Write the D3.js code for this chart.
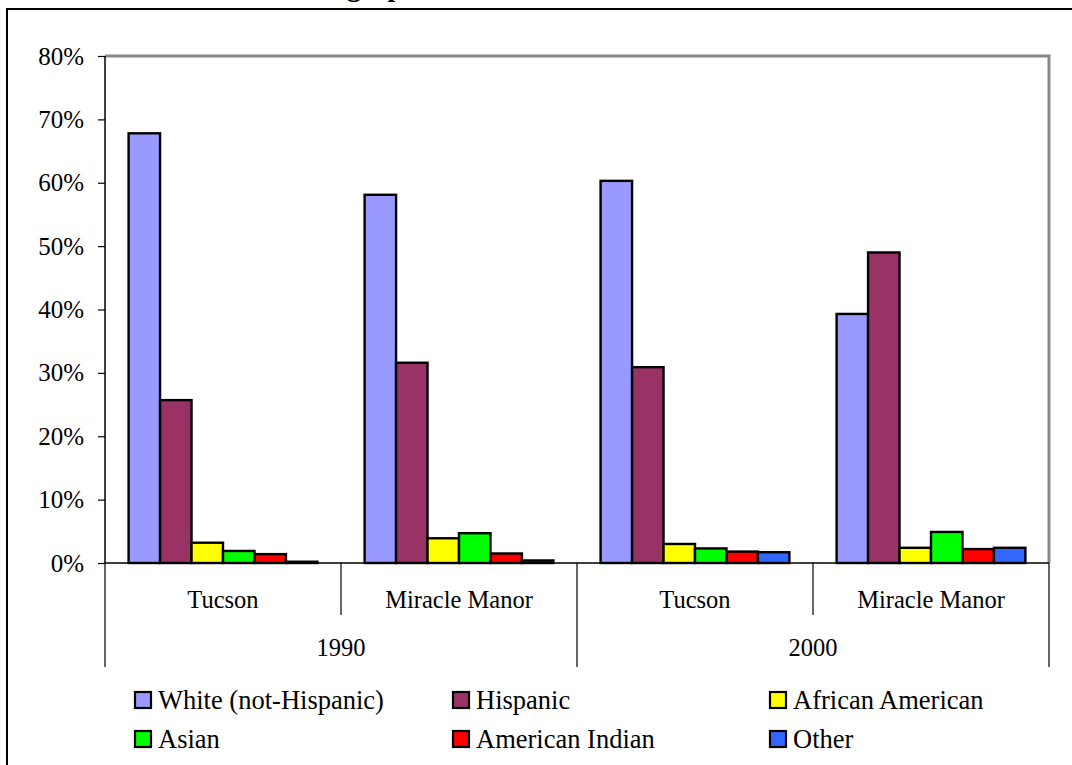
<!DOCTYPE html>
<html>
<head>
<meta charset="utf-8">
<script src="https://cdn.jsdelivr.net/npm/d3@7"></script>
<style>
  html, body { margin: 0; padding: 0; background: #fff; }
  svg { display: block; }
  text { font-family: "Liberation Serif", "Times New Roman", serif; fill: #000; }
</style>
</head>
<body>
<svg id="chart" width="1072" height="765"></svg>
<script>
// Population share by group, for each place and census year
const places = ["Tucson", "Miracle Manor", "Tucson", "Miracle Manor"];
const years = ["1990", "2000"];
const seriesNames = ["White (not-Hispanic)", "Hispanic", "African American", "Asian", "American Indian", "Other"];
const seriesColors = ["#9999FF", "#993366", "#FFFF00", "#00FF00", "#FF0000", "#3366FF"];
const white    = [0.678, 0.581, 0.603, 0.393];
const hispanic = [0.257, 0.316, 0.309, 0.490];
const african  = [0.032, 0.039, 0.030, 0.024];
const asian    = [0.019, 0.047, 0.023, 0.049];
const amIndian = [0.014, 0.015, 0.018, 0.022];
const other    = [0.002, 0.004, 0.017, 0.024];
const yTicks = [0, 0.1, 0.2, 0.3, 0.4, 0.5, 0.6, 0.7, 0.8];

const seriesValues = [white, hispanic, african, asian, amIndian, other];

const svg = d3.select("#chart");

// Outer chart frame (extends past the right and bottom edges)
svg.append("rect")
  .attr("x", 7).attr("y", 9)
  .attr("width", 1100).attr("height", 800)
  .attr("fill", "none").attr("stroke", "#000").attr("stroke-width", 2);

// Title, mostly above the visible area
svg.append("text")
  .attr("x", 277).attr("y", -4)
  .attr("font-size", 28).attr("font-weight", "bold")
  .text("Demographics");

const plotL = 105, plotR = 1049, plotT = 56, plotB = 563;

const y = d3.scaleLinear().domain([0, 0.8]).range([plotB, plotT]);
const x0 = d3.scaleBand().domain(d3.range(places.length)).range([plotL, plotR]);
const x1 = d3.scaleBand().domain(d3.range(seriesNames.length))
  .range([0, x0.bandwidth()]).paddingInner(0).paddingOuter(0.75);

// Plot area border: gray top and right
svg.append("path")
  .attr("d", `M${plotL},${plotT}H${plotR}V${plotB}`)
  .attr("fill", "none").attr("stroke", "#888").attr("stroke-width", 3);

// Bars
const g = svg.append("g");
places.forEach((p, i) => {
  seriesValues.forEach((vals, s) => {
    g.append("rect")
      .attr("x", x0(i) + x1(s))
      .attr("y", y(vals[i]))
      .attr("width", x1.bandwidth())
      .attr("height", plotB - y(vals[i]))
      .attr("fill", seriesColors[s])
      .attr("stroke", "#000")
      .attr("stroke-width", 2.4);
  });
});

// Y axis
const yAxis = d3.axisLeft(y).tickValues(yTicks).tickFormat(d3.format(".0%")).tickSize(7).tickPadding(14);
const ya = svg.append("g").attr("transform", `translate(${plotL},0)`).call(yAxis);
ya.select(".domain").attr("stroke", "#000").attr("stroke-width", 1.5).attr("d", `M0,${plotT}V${plotB}`);
ya.selectAll(".tick line").attr("stroke", "#000").attr("stroke-width", 1.2);
ya.selectAll(".tick text").attr("font-size", 25).attr("font-family", "Liberation Serif").attr("fill", "#000");

// Category axis baseline
svg.append("line")
  .attr("x1", plotL).attr("x2", plotR).attr("y1", plotB).attr("y2", plotB)
  .attr("stroke", "#000").attr("stroke-width", 1.5);

// Multi-level category dividers
const innerBottom = 615, outerBottom = 667;
const dividers = d3.range(places.length + 1);
svg.selectAll("line.div").data(dividers).enter().append("line")
  .attr("x1", d => d < places.length ? x0(d) : plotR)
  .attr("x2", d => d < places.length ? x0(d) : plotR)
  .attr("y1", plotB)
  .attr("y2", d => d % 2 === 0 ? outerBottom : innerBottom)
  .attr("stroke", "#000").attr("stroke-width", 1.2);

// Place labels
svg.selectAll("text.place").data(places).enter().append("text")
  .attr("x", (d, i) => x0(i) + x0.bandwidth() / 2)
  .attr("y", 608)
  .attr("text-anchor", "middle")
  .attr("font-size", 24.5)
  .text(d => d);

// Year labels
svg.selectAll("text.year").data(years).enter().append("text")
  .attr("x", (d, i) => x0(i * 2) + x0.bandwidth())
  .attr("y", 656)
  .attr("text-anchor", "middle")
  .attr("font-size", 24.5)
  .text(d => d);

// Legend
const legendX = [135, 453, 770];
const legendY = [700, 739];
seriesNames.forEach((name, s) => {
  const lx = legendX[s % 3], ly = legendY[Math.floor(s / 3)];
  svg.append("rect")
    .attr("x", lx).attr("y", ly - 8)
    .attr("width", 16).attr("height", 16)
    .attr("fill", seriesColors[s]).attr("stroke", "#000").attr("stroke-width", 2.2);
  svg.append("text")
    .attr("x", lx + 23).attr("y", ly + 9)
    .attr("font-size", 26.5)
    .text(name);
});
</script>
</body>
</html>
